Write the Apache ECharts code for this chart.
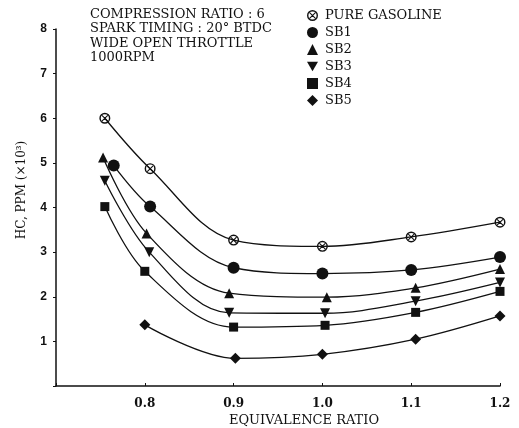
<!DOCTYPE html>
<html>
<head>
<meta charset="utf-8">
<script src="https://cdn.jsdelivr.net/npm/echarts@6/dist/echarts.min.js"></script>
<style>
  html, body { margin: 0; padding: 0; background: #fff; }
  #chart { width: 519px; height: 428px; }
</style>
</head>
<body>
<div id="chart"></div>
<script>
// data
const seriesNames = ["PURE GASOLINE", "SB1", "SB2", "SB3", "SB4", "SB5"];
const pureGasoline = [[0.755, 6.0], [0.806, 4.87], [0.9, 3.27], [1.0, 3.13], [1.1, 3.34], [1.2, 3.67]];
const sb1 = [[0.765, 4.94], [0.806, 4.02], [0.9, 2.65], [1.0, 2.52], [1.1, 2.6], [1.2, 2.89]];
const sb2 = [[0.753, 5.12], [0.802, 3.42], [0.895, 2.08], [1.005, 1.99], [1.105, 2.2], [1.2, 2.62]];
const sb3 = [[0.755, 4.6], [0.805, 3.0], [0.895, 1.64], [1.003, 1.63], [1.105, 1.9], [1.2, 2.32]];
const sb4 = [[0.755, 4.02], [0.8, 2.57], [0.9, 1.32], [1.003, 1.36], [1.105, 1.65], [1.2, 2.12]];
const sb5 = [[0.8, 1.37], [0.902, 0.62], [1.0, 0.71], [1.105, 1.05], [1.2, 1.57]];
const xTicks = [0.8, 0.9, 1.0, 1.1, 1.2];
const yTicks = [1, 2, 3, 4, 5, 6, 7, 8];
const noteLines = ["COMPRESSION RATIO : 6", "SPARK TIMING : 20° BTDC", "WIDE OPEN THROTTLE", "1000RPM"];
const xTitle = "EQUIVALENCE RATIO";
const yTitle = "HC, PPM (×10³)";

// circle with a cross for pure gasoline
const crossCircle = "path://M0,10A10,10 0 1,0 20,10A10,10 0 1,0 0,10Z" +
  "M2.6,10A7.4,7.4 0 1,1 17.4,10A7.4,7.4 0 1,1 2.6,10Z" +
  "M5.4,4L16,14.6L14.6,16L4,5.4Z" +
  "M14.6,4L16,5.4L5.4,16L4,14.6Z";
const symbols = [crossCircle, "circle", "triangle", "path://M0,0L20,0L10,17Z", "rect", "diamond"];
const sizes = [11, 12, 10, 10, 9, 11];
const allData = [pureGasoline, sb1, sb2, sb3, sb4, sb5];

const font = "DejaVu Serif";

const chart = echarts.init(document.getElementById("chart"));

const notes = noteLines.map((t, i) => ({
  type: "text",
  left: 90,
  top: 8 + i * 14.5,
  style: { text: t, font: "13px " + font, fill: "#111" }
}));

const option = {
  animation: false,
  backgroundColor: "#fff",
  grid: { left: 56, right: 19, top: 29, bottom: 42 },
  legend: {
    orient: "vertical",
    left: 302,
    top: 4,
    itemWidth: 11,
    itemHeight: 11,
    itemGap: 4,
    textStyle: { fontFamily: font, fontSize: 13, color: "#111", padding: [0, 0, 0, 2] },
    data: seriesNames.map((n, i) => ({ name: n, icon: symbols[i] }))
  },
  graphic: notes.concat([
    {
      type: "text",
      x: 22,
      y: 190,
      rotation: Math.PI / 2,
      style: { text: yTitle, font: "12px " + font, fill: "#111", align: "center", verticalAlign: "middle" }
    },
    {
      type: "text",
      x: 304,
      y: 421,
      style: { text: xTitle, font: "13px " + font, fill: "#111", align: "center", verticalAlign: "middle" }
    }
  ]),
  xAxis: {
    type: "value",
    min: 0.7,
    max: 1.2,
    interval: 0.1,
    axisLine: { lineStyle: { color: "#111", width: 1.5 } },
    axisTick: { inside: true, length: 3, lineStyle: { color: "#111" } },
    splitLine: { show: false },
    axisLabel: {
      fontFamily: font, fontSize: 12, fontWeight: "bold", color: "#111", margin: 12,
      formatter: v => {
        const t = xTicks.find(x => Math.abs(x - v) < 1e-6);
        return t === undefined ? "" : t.toFixed(1);
      }
    }
  },
  yAxis: {
    type: "value",
    min: 0,
    max: 8,
    interval: 1,
    axisLine: { show: true, lineStyle: { color: "#111", width: 1.5 } },
    axisTick: { show: true, length: 3, lineStyle: { color: "#111" } },
    splitLine: { show: false },
    axisLabel: {
      fontFamily: "Liberation Sans", fontSize: 12, fontWeight: "bold", color: "#111", margin: 9,
      formatter: v => (yTicks.includes(v) ? String(v) : "")
    }
  },
  series: seriesNames.map((n, i) => ({
    name: n,
    type: "line",
    data: allData[i],
    smooth: 0.35,
    symbol: symbols[i],
    symbolSize: sizes[i],
    showAllSymbol: true,
    lineStyle: { color: "#111", width: 1.3 },
    itemStyle: { color: "#111" }
  }))
};

chart.setOption(option);
</script>
</body>
</html>
